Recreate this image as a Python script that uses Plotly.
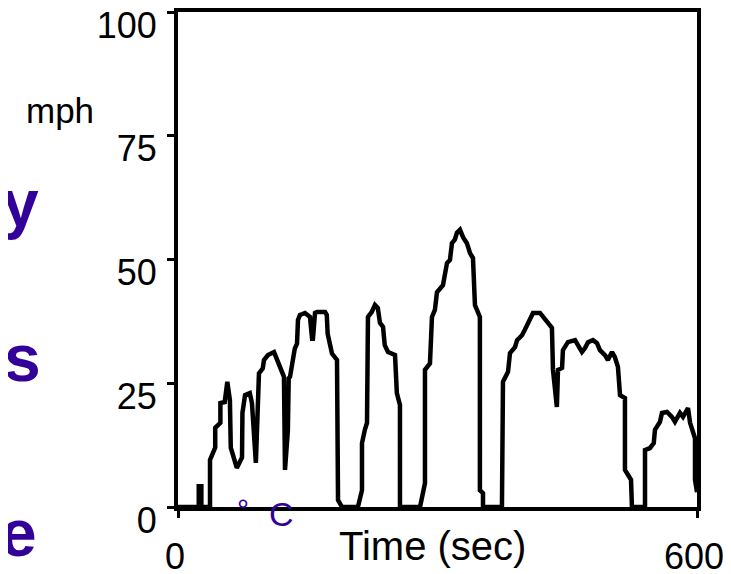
import plotly.graph_objects as go

# speed trace (time in sec, speed in mph)
time_sec = [0, 24, 24, 27, 27, 37, 37, 43, 43, 49, 49, 54, 57, 60, 61, 68, 74, 74.5,
            77.5, 83, 85.5, 90, 93.6, 98, 99.4, 104, 111, 118, 122.5, 123.7, 127, 128,
            129.5, 135, 137.6, 138.7, 141, 146.8, 152.6, 155, 156, 158.4, 160.7, 170,
            172, 173, 178, 183.8, 185, 189.6, 208, 212.7, 212.7, 216, 218.5, 219.6,
            224, 227.7, 231, 233.5, 237, 239, 242.8, 250.9, 253, 256.6, 256.6, 279.8,
            285.5, 285.5, 291.3, 293.6, 297, 299.4, 306.3, 311, 314.4, 316.7, 320,
            322.5, 326, 329.5, 334, 337.6, 341, 343.3, 349, 349, 352.6, 352.6, 374.5,
            375.7, 381.5, 383.8, 389.6, 392, 397.7, 401, 404.6, 407, 410.4, 418.5,
            422, 427.7, 432.3, 433.5, 438, 439.3, 444, 445, 450.8, 459, 462.4, 467,
            470.5, 474, 479.7, 484.4, 487.8, 493.6, 497, 501.7, 505, 508.6, 511,
            516.7, 516.7, 523.7, 524.8, 539.9, 539.9, 545.6, 550, 551.4, 557.2,
            559.5, 565.3, 571, 574.5, 580.3, 583.8, 589.6, 592, 597.7, 597.7, 600]
speed_mph = [0, 0, 4.2, 4.2, 0, 0, 9.5, 12, 16, 17, 21, 21.2, 25.3, 21.6, 12, 7.9, 10, 19,
             22.6, 23, 21, 8.9, 27, 28, 29.7, 30.7, 31.3, 28.5, 26.3, 7.5, 15.5, 26,
             26.3, 32, 33, 37.8, 38.8, 39.2, 38.4, 34, 34, 39.2, 39.4, 39.4,
             38.8, 35, 31, 29.7, 1.4, 0, 0, 3.4, 12.9, 15.6, 17, 38.4,
             39.4, 40.8, 40.2, 37.2, 36.4, 32.7, 31.3, 30.7, 23, 20.6, 0, 0,
             4.8, 27.7, 29, 38.4, 39.8, 43.4, 44.8, 49.3, 49.9, 53.3, 54,
             55.4, 56, 54.5, 53.3, 51.3, 50.3, 40.8, 38.4, 3.4, 2.8, 0, 0,
             25.3, 27.3, 31.1, 32.3, 33.7, 34.7, 35.8, 37.2, 38.4, 39.2, 39.2,
             38.4, 37.2, 36.2, 27.7, 20.2, 27.7, 28.1, 31.7, 33.3, 33.7, 32.7, 31.3,
             32.1, 33.3, 33.7, 33.1, 31.7, 30.7, 29.7, 31.3, 30.3, 28.3, 22.6,
             22, 7.5, 5.5, 0, 0, 11.5, 11.9, 12.9, 15.6, 17.2,
             19, 19.2, 18.2, 17.2, 19, 18.2, 20, 17, 13.9, 5.5, 3]

y_ticks = [0, 25, 50, 75, 100]
x_ticks = [0, 600]

W, H = 731, 574
OFF = 8  # the page body adds an 8px margin
L, R, T, B = 178 - OFF, 697 - OFF, 12 - OFF, 507 - OFF
PURPLE = "#330099"
FONT = "Liberation Sans"


def px(x, y):
    # page pixel position -> paper coordinates
    return (x - OFF - L) / (R - L), (B - (y - OFF)) / (B - T)


fig = go.Figure()
fig.add_trace(go.Scatter(x=time_sec, y=speed_mph, mode="lines",
                         line=dict(color="black", width=4.5), hoverinfo="skip",
                         cliponaxis=False))

notes = [
    ("mph", 60, 110, 35, "black", False),
    ("y", 20, 203, 66, PURPLE, True),
    ("s", 22, 358, 66, PURPLE, True),
    ("e", 18, 533, 66, PURPLE, True),
    ("°", 243, 509, 30, PURPLE, False),
    ("C", 281, 514, 34, PURPLE, False),
    ("Time (sec)", 432, 546, 40, "black", False),
]
for text, x, y, size, color, bold in notes:
    ax, ay = px(x, y)
    fig.add_annotation(x=ax, y=ay, xref="paper", yref="paper", showarrow=False,
                       text="<b>%s</b>" % text if bold else text,
                       font=dict(family=FONT, size=size, color=color),
                       xanchor="center", yanchor="middle")

axis_style = dict(showline=True, linecolor="black", linewidth=4, mirror=True,
                  ticks="outside", tickcolor="black", tickwidth=3, ticklen=7,
                  showgrid=False, zeroline=False, automargin=False,
                  ticklabeloverflow="allow",
                  tickfont=dict(family=FONT, size=36, color="black"))

fig.update_xaxes(range=[0, 600], tickvals=x_ticks, ticklabelstandoff=8,
                 ticklabelshift=-3, **axis_style)
fig.update_yaxes(range=[0, 100], tickvals=y_ticks, ticklabelshift=13,
                 ticklabelstandoff=3, **axis_style)

fig.update_layout(width=W, height=H, showlegend=False,
                  margin=dict(l=L, r=W - R, t=T, b=H - B),
                  paper_bgcolor="white", plot_bgcolor="white")

fig.write_html("out.html")
